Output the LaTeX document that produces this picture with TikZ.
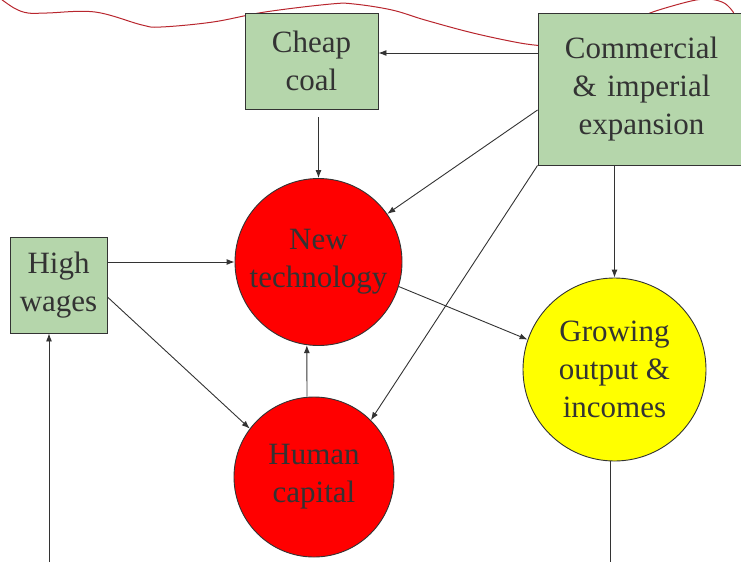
\documentclass[tikz,border=0pt]{standalone}
\usepackage{fontspec}
\newfontfamily\timesfont{Liberation Serif}
\usepackage{xcolor}
\usepackage{tikz}
\usetikzlibrary{calc,arrows.meta}
\definecolor{ink}{HTML}{333333}
\definecolor{txt}{HTML}{333333}
\definecolor{boxgreen}{HTML}{B5D6AB}
\definecolor{hot}{HTML}{FF0000}
\definecolor{sun}{HTML}{FFFF00}
\definecolor{wave}{HTML}{B8262E}
\tikzset{
  >={Latex[length=8pt,width=6pt]},
  cause/.style={draw=ink, fill=boxgreen, line width=0.9pt, text=txt, align=center, inner sep=0pt,
    font=\timesfont\fontsize{31}{38}\selectfont},
  ball/.style={circle, draw=ink, line width=0.9pt, text=txt, align=center, inner sep=0pt,
    font=\timesfont\fontsize{31}{38}\selectfont},
  arr/.style={draw=ink, line width=0.9pt, ->},
  link/.style={draw=ink, line width=0.9pt},
  scribble/.style={draw=wave, line width=1pt},
}
\begin{document}
\begin{tikzpicture}[x=1pt,y=-1pt]
  \useasboundingbox (0,0) rectangle (741,562);
  % red scribble behind the boxes
  \draw[scribble] plot[smooth, tension=0.6] coordinates {(-3,-4) (14,8) (28,13) (47,13) (95,12) (142,25) (161,27)
    (213,22) (265,12) (331,4) (354,4) (392,10) (425,20) (473,33) (520,43) (545,46)};
  \draw[scribble] plot[smooth, tension=0.6] coordinates {(640,20) (650,13) (687,2) (707,-1) (722,2) (730,8) (735,16) (738,30)};
  % nodes
  \node[cause, minimum width=133pt, minimum height=96pt] (coal) at (311.5,61) {Cheap\\coal};
  \node[cause, minimum width=207pt, minimum height=152pt, text width=190pt] (trade) at (641.5,89) {Commercial\\\& imperial\\expansion};
  \node[cause, minimum width=97pt, minimum height=96pt] (wages) at (58.5,285) {High\\wages};
  \node[ball, fill=hot, minimum size=167pt] (tech) at (318.5,262) {New\\technology};
  \node[ball, fill=hot, minimum size=160pt] (human) at (314,477) {Human\\capital};
  \node[ball, fill=sun, minimum size=183pt] (growth) at (614.5,369.5) {Growing\\output \&\\incomes};
  \coordinate (wagesIn) at (49,562);
  \coordinate (growthOut) at (610,562);
  % links
  \draw[arr] ([yshift=36pt]trade.west) -- ([yshift=8pt]coal.east);
  \draw[arr, shorten <=8pt] (tech.north |- coal.south) -- (tech.north);
  \draw[arr] ([yshift=-21pt]trade.west) -- (tech.35);
  \draw[arr] (trade.south west) -- (human.45);
  \draw[arr] (growth.north |- trade.south) -- (growth.north);
  \draw[arr] (wages.east |- tech.west) -- (tech.west);
  \draw[arr] ([yshift=-12pt]wages.east) -- (human.143);
  \draw[arr] ([xshift=-7pt]human.north) -- (tech.262);
  \draw[arr] (tech.-17) -- (growth.161);
  \draw[arr] (wagesIn) -- (wagesIn |- wages.south);
  \draw[link] (growthOut |- growth.south) -- (growthOut);
\end{tikzpicture}
\end{document}
